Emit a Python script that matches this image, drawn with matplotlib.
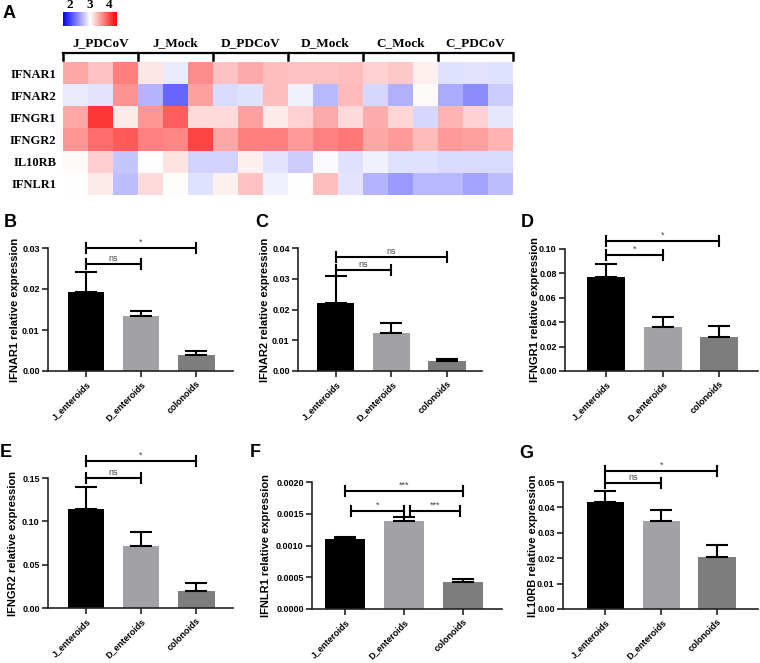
import numpy as np
import matplotlib.pyplot as plt
from matplotlib.colors import LinearSegmentedColormap, TwoSlopeNorm

W, H = 760, 663
fig = plt.figure(figsize=(W / 100, H / 100), dpi=100)

SANS = "Liberation Sans"
SERIF = "Liberation Serif"

# ---- heatmap data (panel A) ----
genes = ["IFNAR1", "IFNAR2", "IFNGR1", "IFNGR2", "IL10RB", "IFNLR1"]
groups = ["J_PDCoV", "J_Mock", "D_PDCoV", "D_Mock", "C_Mock", "C_PDCoV"]
heat = [
    [3.49, 3.33, 3.70, 3.14, 2.89, 3.63, 3.33, 3.47, 3.35, 3.33, 3.33, 3.35, 3.25, 3.30, 3.08, 2.84, 2.86, 2.84],
    [2.89, 2.86, 3.60, 2.60, 2.19, 3.52, 2.81, 2.84, 3.35, 2.92, 2.63, 3.38, 2.78, 2.58, 3.03, 2.55, 2.39, 2.73],
    [3.49, 4.10, 3.11, 3.57, 3.88, 3.20, 3.20, 3.52, 3.11, 3.25, 3.47, 3.20, 3.45, 3.22, 2.78, 3.41, 3.25, 2.87],
    [3.57, 3.80, 3.90, 3.69, 3.66, 4.02, 3.49, 3.71, 3.71, 3.55, 3.69, 3.74, 3.49, 3.55, 3.38, 3.55, 3.52, 3.41],
    [3.03, 3.27, 2.70, 3.00, 3.16, 2.76, 2.76, 3.08, 2.86, 2.73, 2.97, 2.84, 2.92, 2.84, 2.84, 2.81, 2.81, 2.81],
    [3.00, 3.11, 2.66, 3.20, 3.02, 2.84, 3.08, 3.33, 2.92, 3.00, 3.35, 2.86, 2.60, 2.47, 2.63, 2.63, 2.52, 2.66],
]
cbar_ticks = [2, 3, 4]

# ---- bar data (panels B-G) ----
samples = ["J_enteroids", "D_enteroids", "colonoids"]
ifnar1 = [0.0193, 0.0134, 0.0038]
ifnar1_top = [0.0242, 0.0147, 0.0050]
ifnar2 = [0.0220, 0.0122, 0.0031]
ifnar2_top = [0.0308, 0.0157, 0.0038]
ifngr1 = [0.077, 0.036, 0.028]
ifngr1_top = [0.088, 0.0445, 0.0365]
ifngr2 = [0.114, 0.072, 0.020]
ifngr2_top = [0.140, 0.088, 0.029]
ifnlr1 = [0.00110, 0.00138, 0.00043]
ifnlr1_top = [0.00114, 0.00145, 0.00047]
il10rb = [0.0422, 0.0345, 0.0205]
il10rb_top = [0.0465, 0.0390, 0.0253]

bar_colors = ["#000000", "#a2a2a6", "#7d7d7d"]


def px_axes(l, r, t, b):
    return fig.add_axes([l / W, 1 - b / H, (r - l) / W, (b - t) / H])


# ---------------- panel A ----------------
cmap = LinearSegmentedColormap.from_list("bwr2", ["#0000ff", "#ffffff", "#ff0000"])
norm = TwoSlopeNorm(vmin=1.65, vcenter=3.0, vmax=4.4)
axh = px_axes(63, 513, 62, 195)
im = axh.imshow(np.array(heat), cmap=cmap, norm=norm, aspect="auto")
axh.set_xticks([])
axh.set_yticks(range(len(genes)))
axh.set_yticklabels(genes, fontfamily=SERIF, fontweight="bold", fontsize=9)
axh.tick_params(axis="y", length=0, pad=5)
for s in axh.spines.values():
    s.set_visible(False)

trans = axh.get_xaxis_transform()
ncol = 3
for i, g in enumerate(groups):
    x0, x1 = i * ncol - 0.5, (i + 1) * ncol - 0.5
    axh.plot([x0, x1], [1.068, 1.068], color="k", lw=1.6, transform=trans, clip_on=False)
    axh.text((x0 + x1) / 2, 1.145, g, transform=trans, ha="center", va="center",
             fontfamily=SERIF, fontweight="bold", fontsize=9.5)
for i in range(len(groups) + 1):
    xb = i * ncol - 0.5
    axh.plot([xb, xb], [1.012, 1.068], color="k", lw=1.8, transform=trans, clip_on=False)

cax = px_axes(63, 117, 12, 26)
cb = fig.colorbar(im, cax=cax, orientation="horizontal", ticks=cbar_ticks)
cb.outline.set_visible(False)
cax.xaxis.set_ticks_position("top")
cax.tick_params(length=0, pad=1)
for lab in cax.get_xticklabels():
    lab.set_fontfamily(SERIF)
    lab.set_fontweight("bold")
    lab.set_fontsize(9.5)


# ---------------- bar panels ----------------
def bar_panel(rect, xlim, vals, tops, ylabel, ymax, step, fmt, brackets, ylab_px):
    ax = px_axes(*rect)
    x = np.arange(len(samples))
    ax.bar(x, vals, width=0.67, color=bar_colors, zorder=2)
    lower = [0] * len(vals)
    upper = [t - v for t, v in zip(tops, vals)]
    ax.errorbar(x, vals, yerr=[lower, upper], fmt="none", ecolor="k",
                elinewidth=1.5, capsize=8, capthick=1.5, zorder=3)
    ax.set_xlim(*xlim)
    ax.set_ylim(0, ymax)
    ticks = np.arange(0, ymax + step / 2, step)
    ax.set_yticks(ticks)
    ax.set_yticklabels([fmt.format(t) for t in ticks], fontfamily=SANS,
                       fontweight="bold", fontsize=6.5)
    ax.set_xticks(x)
    ax.set_xticklabels(samples, rotation=45, ha="right", rotation_mode="anchor",
                       fontfamily=SANS, fontweight="bold", fontsize=6.5)
    ax.set_ylabel(ylabel, fontfamily=SANS, fontweight="bold", fontsize=8)
    ax.yaxis.set_label_coords((ylab_px - rect[0]) / (rect[1] - rect[0]), 0.5)
    for side in ("top", "right"):
        ax.spines[side].set_visible(False)
    for side in ("left", "bottom"):
        ax.spines[side].set_linewidth(1.2)
        ax.spines[side].set_color("#222222")
    ax.tick_params(length=4, width=1.2, color="#222222", pad=2)

    hpx = rect[3] - rect[2]
    dy = ymax * 5 / hpx
    for x1, x2, yb, txt in brackets:
        ax.plot([x1, x2], [yb, yb], color="k", lw=1.5, clip_on=False, zorder=4)
        for xe in (x1, x2):
            ax.plot([xe, xe], [yb - dy, yb + dy], color="k", lw=1.5, clip_on=False, zorder=4)
        ax.text((x1 + x2) / 2, yb + dy * 0.2, txt, ha="center", va="bottom",
                fontfamily=SANS, fontsize=6.5, color="#444444")
    return ax


bar_panel((48, 233, 248, 371), (-0.69, 2.67), ifnar1, ifnar1_top,
          "IFNAR1 relative expression", 0.03, 0.01, "{:.2f}",
          [(0, 2, 0.0300, "*"), (0, 1, 0.0261, "ns")], 20)
bar_panel((298, 482, 248, 371), (-0.68, 2.63), ifnar2, ifnar2_top,
          "IFNAR2 relative expression", 0.04, 0.01, "{:.2f}",
          [(0, 2, 0.0372, "ns"), (0, 1, 0.0328, "ns")], 270)
bar_panel((565, 758, 249, 371), (-0.73, 2.69), ifngr1, ifngr1_top,
          "IFNGR1 relative expression", 0.10, 0.02, "{:.2f}",
          [(0, 2, 0.1066, "*"), (0, 1, 0.0950, "*")], 540)
bar_panel((48, 233, 478, 608), (-0.69, 2.67), ifngr2, ifngr2_top,
          "IFNGR2 relative expression", 0.15, 0.05, "{:.2f}",
          [(0, 2, 0.1696, "*"), (0, 1, 0.1500, "ns")], 18)
bar_panel((312, 502, 482, 609), (-0.56, 2.66), ifnlr1, ifnlr1_top,
          "IFNLR1 relative expression", 0.0020, 0.0005, "{:.4f}",
          [(0, 2, 0.00186, "***"), (0.1, 1.0, 0.00154, "*"), (1.1, 1.95, 0.00154, "***")], 271)
bar_panel((563, 758, 482, 609), (-0.76, 2.73), il10rb, il10rb_top,
          "IL10RB relative expression", 0.05, 0.01, "{:.2f}",
          [(0, 2, 0.0543, "*"), (0, 1, 0.0496, "ns")], 538)

# panel letters
letters = [("A", 3, 5), ("B", 4, 214), ("C", 255, 214), ("D", 521, 214),
           ("E", 0, 444), ("F", 250, 444), ("G", 519, 445)]
for lt, xp, yp in letters:
    fig.text(xp / W, 1 - yp / H, lt, ha="left", va="top", fontfamily=SANS,
             fontweight="bold", fontsize=13)

fig.savefig("out.png", dpi=100)
